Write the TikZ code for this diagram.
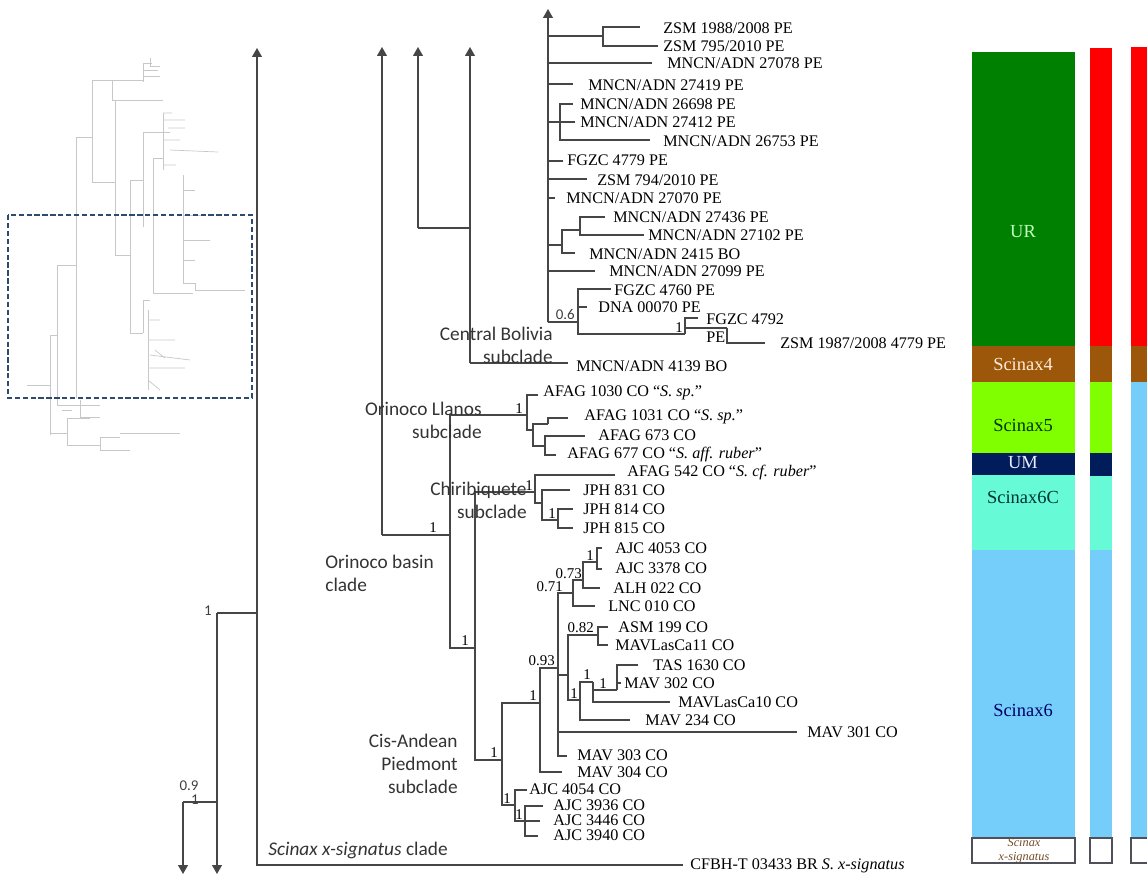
\documentclass[tikz,border=0pt]{standalone}
\usepackage{fontspec}
\setmainfont{Liberation Serif}
\newfontfamily\cladefont{Carlito}
\usetikzlibrary{arrows.meta}

\definecolor{urgreen}{RGB}{0,128,0}
\definecolor{scbrown}{RGB}{156,87,10}
\definecolor{sclime}{RGB}{128,255,0}
\definecolor{umnavy}{RGB}{0,28,90}
\definecolor{scaqua}{RGB}{102,250,215}
\definecolor{scblue}{RGB}{117,206,250}
\definecolor{zonered}{RGB}{255,0,0}
\definecolor{treegray}{RGB}{70,70,70}
\definecolor{thumbgray}{RGB}{200,200,200}
\definecolor{boxblue}{RGB}{45,75,110}
\definecolor{framegray}{RGB}{80,80,90}

\begin{document}
\begin{tikzpicture}[x=0.02cm, y=-0.02cm,
    branch/.style={draw=treegray, line width=0.8pt},
    upar/.style={branch, -{Triangle[width=5.5pt,length=5pt]}},
    tiplab/.style={anchor=west, inner sep=0pt, font=\fontsize{9.2}{10.5}\selectfont},
    supp/.style={anchor=south east, inner sep=0.5pt, font=\fontsize{8.5}{9}\selectfont},
    ssupp/.style={inner sep=0.5pt, text=black!75, font=\cladefont\fontsize{8.5}{9}\selectfont},
    clade/.style={inner sep=0pt, text=black!80, font=\cladefont\fontsize{11}{13}\selectfont},
    thumb/.style={draw=thumbgray, line width=0.4pt},
    zonelab/.style={inner sep=0pt, font=\fontsize{10.5}{12}\selectfont}]
    \useasboundingbox (0,0) rectangle (1147,877);

    % Miniature of the whole tree
    \draw[thumb] (76,398) -- (76,137) -- (92,137);
    \draw[thumb] (92,80) -- (92,182) -- (115,182);
    \draw[thumb] (92,80) -- (143,80);
    \draw[thumb] (112,80) -- (112,100) -- (163,100);
    \draw[thumb] (143,63) -- (143,82);
    \draw[thumb] (143,63) -- (152,63) (150,58) -- (150,66) -- (160,66) (143,70) -- (158,70) (143,76) -- (160,76);
    \draw[thumb] (115,100) -- (115,255) -- (130,255);
    \draw[thumb] (130,180) -- (130,333);
    \draw[thumb] (130,180) -- (143,180) (130,333) -- (143,333);
    \draw[thumb] (143,132) -- (143,227) (143,132) -- (170,132);
    \draw[thumb] (153,158) -- (153,293) -- (193,293) (153,158) -- (163,158);
    \draw[thumb] (163,113) -- (163,170);
    \draw[thumb] (163,113) -- (172,113) (163,120) -- (185,120) (168,128) -- (185,128) (163,140) -- (180,140) (170,150) -- (218,152) (163,165) -- (176,165);
    \draw[thumb] (183,175) -- (183,283) -- (195,283) -- (195,290) -- (245,290);
    \draw[thumb] (183,190) -- (195,190) (183,215) -- (205,215) (183,240) -- (210,240) (183,260) -- (195,260);
    \draw[thumb] (143,300) -- (143,333) (143,300) -- (150,300);
    \draw[thumb] (148,310) -- (148,390);
    \draw[thumb] (148,320) -- (160,320) (148,340) -- (175,340) (150,355) -- (190,360) (148,368) -- (185,368) (148,380) -- (160,390) (155,350) -- (165,358);
    \draw[thumb] (57,265) -- (76,265) (57,265) -- (57,405);
    \draw[thumb] (27,385) -- (50,385) (50,335) -- (57,335) (50,335) -- (50,435);
    \draw[thumb] (57,405) -- (100,405) (62,410) -- (72,410) (80,400) -- (80,417) -- (100,417);
    \draw[thumb] (50,433) -- (67,433) (67,418) -- (67,445) (67,418) -- (90,418) (67,445) -- (100,445);
    \draw[thumb] (100,437) -- (100,450) (100,437) -- (120,437) (120,433) -- (180,433) (100,450) -- (130,450);

    % Detail frame
    \draw[boxblue, line width=1pt, dash pattern=on 3pt off 1.5pt] (8,215) rectangle (252,398);

    % Backbone
    \coordinate (k1) at (217,613);
    \coordinate (k09) at (183,802);
    \coordinate (dn1) at (217,874);
    \coordinate (dn2) at (183,874);
    \coordinate (xs) at (257,613);
    \coordinate (up1) at (257,48);
    \draw[upar] (k1) -- (dn1);
    \draw[branch] (k1) |- (k09);
    \draw[upar] (k09) -- (dn2);
    \draw[branch] (k1) -- (xs);
    \draw[upar] (xs) -- (up1);
    \node[ssupp, anchor=east] (sk1) at (213,611) {1};
    \node[ssupp] (sk09a) at (189,786) {0.9};
    \node[ssupp] (sk09b) at (195,800) {1};
    \coordinate (tcfe) at (683,865);
    \draw[branch] (xs) |- (tcfe);
    \node[tiplab] (tcf) at (690,866) {CFBH-T 03433 BR \textit{S. x-signatus}};

    % Central Bolivia
    \coordinate (cbs) at (418,228);
    \coordinate (cbj) at (470,228);
    \coordinate (up3) at (418,47);
    \coordinate (cb) at (470,363);
    \coordinate (up4) at (470,47);
    \draw[upar] (cbs) -- (up3);
    \draw[branch] (cbs) -- (cbj);
    \draw[upar] (cb) -- (up4);
    \coordinate (t4139e) at (568,363);
    \draw[branch] (cb) -- (t4139e);
    \node[tiplab] (t4139) at (576,366) {MNCN/ADN 4139 BO};

    % Upper clade
    \coordinate (ur) at (548,322);
    \coordinate (up5) at (548,9);
    \draw[upar] (ur) -- (up5);
    \coordinate (zn) at (603,36);
    \coordinate (t1988e) at (640,27);
    \coordinate (t795e) at (658,46);
    \draw[branch] (ur) |- (zn);
    \draw[branch] (zn) |- (t1988e);
    \draw[branch] (zn) |- (t795e);
    \node[tiplab] (t1988) at (663,28) {ZSM 1988/2008 PE};
    \node[tiplab] (t795) at (663,46) {ZSM 795/2010 PE};
    \coordinate (t27078e) at (652,63);
    \draw[branch] (ur) |- (t27078e);
    \node[tiplab] (t27078) at (667,63) {MNCN/ADN 27078 PE};
    \coordinate (t27419e) at (573,84);
    \draw[branch] (ur) |- (t27419e);
    \node[tiplab] (t27419) at (588,85) {MNCN/ADN 27419 PE};
    \coordinate (n3) at (560,122);
    \draw[branch] (ur) |- (n3);
    \coordinate (t26698e) at (573,104);
    \coordinate (t27412e) at (575,122);
    \coordinate (t26753e) at (650,140);
    \draw[branch] (n3) |- (t26698e);
    \draw[branch] (n3) -- (t27412e);
    \draw[branch] (n3) |- (t26753e);
    \node[tiplab] (t26698) at (580,104) {MNCN/ADN 26698 PE};
    \node[tiplab] (t27412) at (580,122) {MNCN/ADN 27412 PE};
    \node[tiplab] (t26753) at (663,141) {MNCN/ADN 26753 PE};
    \coordinate (t4779e) at (563,161);
    \draw[branch] (ur) |- (t4779e);
    \node[tiplab] (t4779) at (567,160) {FGZC 4779 PE};
    \coordinate (t794e) at (587,179);
    \draw[branch] (ur) |- (t794e);
    \node[tiplab] (t794) at (597,180) {ZSM 794/2010 PE};
    \coordinate (t27070e) at (555,198);
    \draw[branch] (ur) |- (t27070e);
    \node[tiplab] (t27070) at (566,198) {MNCN/ADN 27070 PE};
    \coordinate (n4) at (562,245);
    \coordinate (n5) at (580,230);
    \draw[branch] (ur) |- (n4);
    \draw[branch] (n4) |- (n5);
    \coordinate (t27436e) at (605,217);
    \coordinate (t27102e) at (644,235);
    \coordinate (t2415e) at (575,253);
    \draw[branch] (n5) |- (t27436e);
    \draw[branch] (n5) |- (t27102e);
    \draw[branch] (n4) |- (t2415e);
    \node[tiplab] (t27436) at (613,217) {MNCN/ADN 27436 PE};
    \node[tiplab] (t27102) at (648,235) {MNCN/ADN 27102 PE};
    \node[tiplab] (t2415) at (589,254) {MNCN/ADN 2415 BO};
    \coordinate (t27099e) at (595,271);
    \draw[branch] (ur) |- (t27099e);
    \node[tiplab] (t27099) at (609,271) {MNCN/ADN 27099 PE};
    \coordinate (n06) at (578,322);
    \draw[branch] (ur) -- (n06);
    \node[ssupp, anchor=south east] (s06) at (576,321) {0.6};
    \coordinate (t4760e) at (611,289);
    \coordinate (t00070e) at (587,307);
    \coordinate (n07) at (685,334);
    \draw[branch] (n06) |- (t4760e);
    \draw[branch] (n06) |- (t00070e);
    \draw[branch] (n06) |- (n07);
    \node[tiplab] (t4760) at (614,290) {FGZC 4760 PE};
    \node[tiplab] (t00070) at (598,307) {DNA 00070 PE};
    \node[supp] (s07) at (684,334) {1};
    \coordinate (t4792e) at (698,318);
    \coordinate (n08) at (727,328);
    \coordinate (t1987e) at (765,343);
    \draw[branch] (n07) |- (t4792e);
    \draw[branch] (n07) |- (n08);
    \draw[branch] (n08) |- (t1987e);
    \node[tiplab, align=left] (t4792) at (706,328) {FGZC 4792\\PE};
    \node[tiplab] (t1987) at (780,343) {ZSM 1987/2008 4779 PE};
    \node[clade, align=right, anchor=east] (lcb) at (553,345) {Central Bolivia\\subclade};

    % Orinoco basin clade
    \coordinate (ob) at (382,535);
    \coordinate (up2) at (382,47);
    \coordinate (obn) at (450,535);
    \draw[upar] (ob) -- (up2);
    \draw[branch] (ob) -- (obn);
    \node[supp] (sob) at (438,534) {1};
    \coordinate (ll) at (527,415);
    \coordinate (oc) at (475,648);
    \draw[branch] (obn) |- (ll);
    \draw[branch] (obn) |- (oc);
    \node[supp] (sll) at (524,415) {1};
    \node[supp] (soc) at (470,647) {1};
    \node[clade, align=left, anchor=west] (lob) at (325,573) {Orinoco basin\\clade};

    % Orinoco Llanos subclade
    \coordinate (t1030e) at (538,395);
    \coordinate (ll2) at (533,430);
    \draw[branch] (ll) |- (t1030e);
    \draw[branch] (ll) |- (ll2);
    \coordinate (ll3) at (548,424);
    \coordinate (ll4) at (545,446);
    \draw[branch] (ll2) |- (ll3);
    \draw[branch] (ll2) |- (ll4);
    \coordinate (t1031e) at (568,418);
    \draw[branch] (ll3) |- (t1031e);
    \coordinate (t673e) at (585,436);
    \coordinate (t677e) at (556,455);
    \draw[branch] (ll4) |- (t673e);
    \draw[branch] (ll4) |- (t677e);
    \node[tiplab] (t1030) at (543,393) {AFAG 1030 CO “\textit{S. sp.}”};
    \node[tiplab] (t1031) at (584,417) {AFAG 1031 CO “\textit{S. sp.}”};
    \node[tiplab] (t673) at (598,435) {AFAG 673 CO};
    \node[tiplab] (t677) at (567,455) {AFAG 677 CO “\textit{S. aff. ruber}”};
    \node[clade, align=right, anchor=east] (lll) at (482,420) {Orinoco Llanos\\subclade};

    % Chiribiquete subclade
    \coordinate (ch) at (535,492);
    \coordinate (pd) at (502,760);
    \draw[branch] (oc) |- (ch);
    \draw[branch] (oc) |- (pd);
    \node[supp] (sch) at (534,492) {1};
    \coordinate (t542e) at (615,475);
    \coordinate (jp) at (542,503);
    \draw[branch] (ch) |- (t542e);
    \draw[branch] (ch) |- (jp);
    \coordinate (t831e) at (570,490);
    \coordinate (jp2) at (558,520);
    \draw[branch] (jp) |- (t831e);
    \draw[branch] (jp) |- (jp2);
    \node[supp] (sjp2) at (557,520) {1};
    \coordinate (t814e) at (573,509);
    \coordinate (t815e) at (573,528);
    \draw[branch] (jp2) |- (t814e);
    \draw[branch] (jp2) |- (t815e);
    \node[tiplab] (t542) at (627,473) {AFAG 542 CO “\textit{S. cf. ruber}”};
    \node[tiplab] (t831) at (583,490) {JPH 831 CO};
    \node[tiplab] (t814) at (583,509) {JPH 814 CO};
    \node[tiplab] (t815) at (583,528) {JPH 815 CO};
    \node[clade, align=right, anchor=east] (lch) at (527,500) {Chiribiquete\\subclade};

    % Cis-Andean Piedmont subclade
    \node[supp] (spd) at (499,759) {1};
    \coordinate (pB) at (540,703);
    \coordinate (aj) at (515,805);
    \draw[branch] (pd) |- (pB);
    \draw[branch] (pd) |- (aj);
    \node[supp] (spB) at (538,702) {1};
    \coordinate (pC) at (558,668);
    \coordinate (t304e) at (562,772);
    \draw[branch] (pB) |- (pC);
    \draw[branch] (pB) |- (t304e);
    \node[supp] (spC) at (556,667) {0.93};
    \coordinate (pD) at (573,593);
    \coordinate (pE) at (568,675);
    \coordinate (t301e) at (797,732);
    \coordinate (t303e) at (567,756);
    \draw[branch] (pC) |- (pD);
    \draw[branch] (pC) |- (pE);
    \draw[branch] (pC) |- (t301e);
    \draw[branch] (pC) |- (t303e);
    \node[supp] (spD) at (564,593) {0.71};
    \coordinate (pF) at (583,580);
    \coordinate (t010e) at (595,606);
    \draw[branch] (pD) |- (pF);
    \draw[branch] (pD) |- (t010e);
    \node[supp] (spF) at (583,580) {0.73};
    \coordinate (pG) at (597,562);
    \coordinate (t022e) at (600,588);
    \draw[branch] (pF) |- (pG);
    \draw[branch] (pF) |- (t022e);
    \node[supp] (spG) at (595,562) {1};
    \coordinate (t4053e) at (602,548);
    \coordinate (t3378e) at (602,569);
    \draw[branch] (pG) |- (t4053e);
    \draw[branch] (pG) |- (t3378e);
    \coordinate (pH) at (598,635);
    \coordinate (pI) at (580,700);
    \draw[branch] (pE) |- (pH);
    \draw[branch] (pE) |- (pI);
    \node[supp] (spH) at (595,634) {0.82};
    \coordinate (t199e) at (608,627);
    \coordinate (t11e) at (608,645);
    \draw[branch] (pH) |- (t199e);
    \draw[branch] (pH) |- (t11e);
    \node[supp] (spI) at (579,700) {1};
    \coordinate (pJ) at (593,682);
    \coordinate (t234e) at (630,720);
    \draw[branch] (pI) |- (pJ);
    \draw[branch] (pI) |- (t234e);
    \node[supp] (spJ) at (592,681) {1};
    \coordinate (pK) at (617,690);
    \coordinate (t10e) at (670,702);
    \draw[branch] (pJ) |- (pK);
    \draw[branch] (pJ) |- (t10e);
    \node[supp] (spK) at (608,690) {1};
    \coordinate (t1630e) at (638,665);
    \coordinate (t302e) at (621,683);
    \draw[branch] (pK) |- (t1630e);
    \draw[branch] (pK) |- (t302e);
    \node[supp] (saj) at (512,805) {1};
    \coordinate (t4054e) at (527,790);
    \coordinate (aj2) at (525,821);
    \draw[branch] (aj) |- (t4054e);
    \draw[branch] (aj) |- (aj2);
    \node[supp] (saj2) at (524,821) {1};
    \coordinate (t3936e) at (543,806);
    \coordinate (t3446e) at (540,821);
    \coordinate (t3940e) at (538,836);
    \draw[branch] (aj2) |- (t3936e);
    \draw[branch] (aj2) |- (t3446e);
    \draw[branch] (aj2) |- (t3940e);
    \node[tiplab] (t4053) at (615,548) {AJC 4053 CO};
    \node[tiplab] (t3378) at (615,568) {AJC 3378 CO};
    \node[tiplab] (t022) at (613,588) {ALH 022 CO};
    \node[tiplab] (t010) at (608,606) {LNC 010 CO};
    \node[tiplab] (t199) at (618,627) {ASM 199 CO};
    \node[tiplab] (t11) at (615,645) {MAVLasCa11 CO};
    \node[tiplab] (t1630) at (653,665) {TAS 1630 CO};
    \node[tiplab] (t302) at (624,683) {MAV 302 CO};
    \node[tiplab] (t10) at (678,702) {MAVLasCa10 CO};
    \node[tiplab] (t234) at (645,720) {MAV 234 CO};
    \node[tiplab] (t301) at (807,732) {MAV 301 CO};
    \node[tiplab] (t303) at (577,755) {MAV 303 CO};
    \node[tiplab] (t304) at (577,772) {MAV 304 CO};
    \node[tiplab] (t4054) at (529,789) {AJC 4054 CO};
    \node[tiplab] (t3936) at (553,805) {AJC 3936 CO};
    \node[tiplab] (t3446) at (553,820) {AJC 3446 CO};
    \node[tiplab] (t3940) at (553,835) {AJC 3940 CO};
    \node[clade, align=right, anchor=east] (lpd) at (458,764) {Cis-Andean\\Piedmont\\subclade};
    \node[clade, anchor=west] (lxs) at (268,850) {\itshape Scinax x-signatus\/\upshape{} clade};

    % Lineage bars
    \foreach \ya/\yb/\col in {52/346/urgreen, 346/382/scbrown, 382/453/sclime, 453/475/umnavy, 475/550/scaqua, 550/837/scblue}
        \fill[\col] (972,\ya) rectangle (1075,\yb);
    \foreach \ya/\yb/\col in {48/346/zonered, 346/382/scbrown, 382/453/sclime, 453/476/umnavy, 476/550/scaqua, 550/837/scblue}
        \fill[\col] (1090,\ya) rectangle (1112,\yb);
    \foreach \ya/\yb/\col in {47/346/zonered, 346/382/scbrown, 382/837/scblue}
        \fill[\col] (1131,\ya) rectangle (1147,\yb);
    \draw[framegray, line width=0.8pt] (972,838) rectangle (1075,863);
    \draw[framegray, line width=0.8pt] (1090,838) rectangle (1112,863);
    \draw[framegray, line width=0.8pt] (1147,838) -- (1131,838) -- (1131,863) -- (1147,863);
    \node[zonelab, text=green!25!white] (lur) at (1023,232) {UR};
    \node[zonelab, text=orange!15!white] (lsc4) at (1023,364) {Scinax4};
    \node[zonelab, text=green!20!black] (lsc5) at (1023,425) {Scinax5};
    \node[zonelab, text=blue!8!white] (lum) at (1023,463) {UM};
    \node[zonelab, text=teal!40!black] (lsc6c) at (1023,497) {Scinax6C};
    \node[zonelab, text=blue!40!black] (lsc6) at (1023,710) {Scinax6};
    \node[inner sep=0pt, align=center, text=brown!60!black, font=\itshape\fontsize{7}{8}\selectfont] (lxsig) at (1024,851) {Scinax\\x-signatus};
\end{tikzpicture}
\end{document}
